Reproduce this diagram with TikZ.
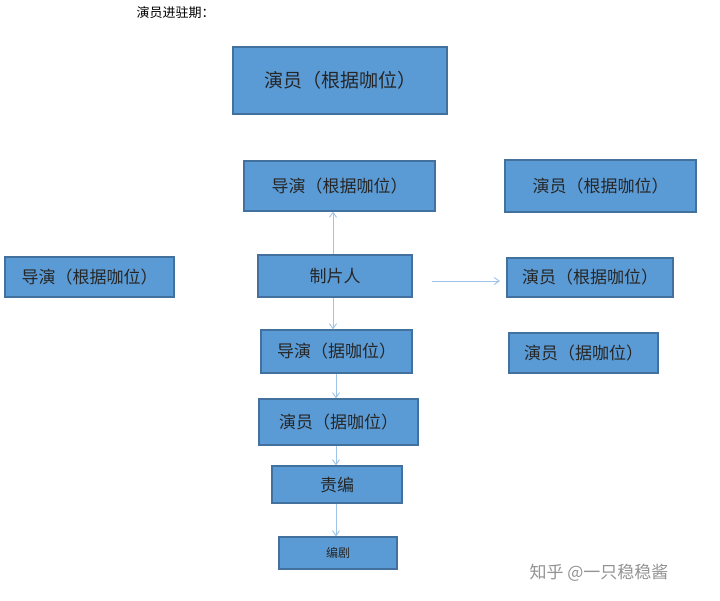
\documentclass[tikz,border=0pt]{standalone}
\usepackage{fontspec}
\setmainfont{Noto Sans CJK SC}
\usetikzlibrary{arrows.meta}
\definecolor{bfill}{HTML}{5B9BD5}
\definecolor{bdraw}{HTML}{41719C}
\definecolor{arr}{HTML}{9DC3E6}
\begin{document}
\begin{tikzpicture}[x=1pt,y=-1pt,
  bx/.style={draw=bdraw,line width=1.2pt,fill=bfill,inner sep=0pt,font=\fontsize{17}{17}\selectfont,text=black!85},
  ar/.style={draw=arr,line width=0.9pt,-{Straight Barb[length=5pt,width=7pt]}}]
\useasboundingbox (0,0) rectangle (720,600);
\fill[white] (0,0) rectangle (720,600);
\node[font=\fontsize{13}{13}\selectfont,anchor=west] (t) at (133,13) {演员进驻期：};
\newcommand\bxat[6]{\node[bx,minimum width=#4-#2,minimum height=#5-#3] (#1) at ({(#2+#4)/2},{(#3+#5)/2}) {#6};}
\bxat{a}{233}{47}{447}{114}{\fontsize{19}{19}\selectfont 演员（根据咖位）}
\bxat{b}{244}{161}{435}{211}{导演（根据咖位）}
\bxat{c}{505}{160}{696}{212}{演员（根据咖位）}
\bxat{d}{5}{257}{174}{297}{导演（根据咖位）}
\bxat{e}{258}{255}{412}{297}{制片人}
\bxat{f}{507}{258}{673}{297}{演员（根据咖位）}
\bxat{g}{261}{330}{412}{373}{导演（据咖位）}
\bxat{h}{509}{333}{658}{373}{演员（据咖位）}
\bxat{i}{259}{399}{418}{445}{演员（据咖位）}
\bxat{j}{272}{466}{402}{503}{责编}
\node[bx,minimum width=118,minimum height=32,font=\fontsize{12}{12}\selectfont] (k) at (338,553) {编剧};
\coordinate (eo) at (432,281);
\coordinate (fi) at (500,281);
\coordinate (c1) at (333,0);
\coordinate (c2) at (336,0);
\draw[ar] (e.north -| c1) -- (b.south -| c1);
\draw[ar] (eo) -- (fi);
\draw[ar] (e.south -| c1) -- (g.north -| c1);
\draw[ar] (g.south -| c2) -- (i.north -| c2);
\draw[ar] (i.south -| c2) -- (j.north -| c2);
\draw[ar] (j.south -| c2) -- (k.north -| c2);
\node[text=gray!85,font=\fontsize{17}{17}\selectfont,anchor=west] (w) at (526,573) {知乎 @一只稳稳酱};
\end{tikzpicture}
\end{document}
